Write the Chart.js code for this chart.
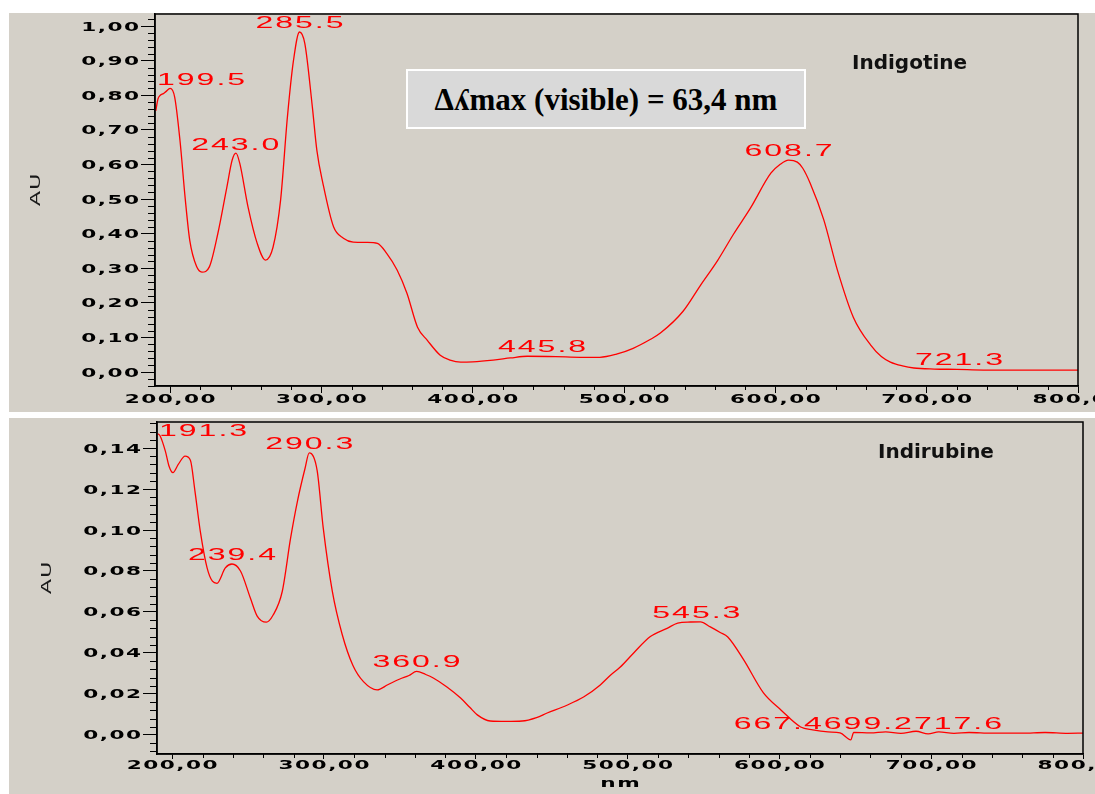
<!DOCTYPE html>
<html>
<head>
<meta charset="utf-8">
<script src="https://cdn.jsdelivr.net/npm/chart.js@4.4.0/dist/chart.umd.min.js"></script>
<style>
  html, body { margin: 0; padding: 0; background: #fff; }
  body { width: 1095px; height: 794px; position: relative; overflow: hidden; }
  .panel { position: absolute; background: #d4d0c8; }
  canvas { position: absolute; left: 0; }
  .name { position: absolute; font: bold 20px "DejaVu Sans", sans-serif; color: #111; }
  .box {
    position: absolute; left: 406px; top: 69px; width: 396px; height: 56px;
    background: #d9d9d9; border: 2px solid #fff; color: #000;
    font: bold 31px "Liberation Serif", "DejaVu Serif", serif;
    text-align: center; line-height: 58px; white-space: nowrap;
  }
</style>
</head>
<body>
<div class="panel" style="left:9px;top:13px;width:1086px;height:399px"></div>
<div class="panel" style="left:9px;top:418px;width:1086px;height:376px"></div>
<canvas id="topChart" width="1095" height="410" style="top:0"></canvas>
<canvas id="bottomChart" width="1095" height="384" style="top:410px"></canvas>
<div class="box">Δʎmax (visible) = 63,4 nm</div>
<div class="name" style="left:852px;top:50px">Indigotine</div>
<div class="name" style="left:878px;top:439px">Indirubine</div>
<script>
// Indigotine spectrum (top)
const indigoNm = [190.5,192,193.5,195.5,197,200,203,206.5,210,213,217.5,221,226,231.5,237.5,241,243.5,246,251.5,257.5,263,268,273,277.5,281.5,285.5,289,294,297,301,308,314.5,321,330,337,343,350,356.5,363.5,370,378.5,385,392,400,413.5,425,436,455,471,484,495,506,517.5,524,539,550.5,562,572.5,583.5,597,603,608.7,614.5,618,623,632,641,651.5,663,670,676,684,691.5,705,720,737.5,760,780,800];
const indigoAu = [0.755,0.79,0.80,0.805,0.81,0.82,0.795,0.67,0.50,0.38,0.305,0.289,0.305,0.40,0.535,0.613,0.633,0.604,0.477,0.373,0.324,0.361,0.497,0.737,0.90,0.983,0.95,0.766,0.64,0.545,0.42,0.387,0.376,0.375,0.372,0.344,0.295,0.228,0.13,0.092,0.049,0.035,0.029,0.03,0.035,0.041,0.046,0.045,0.043,0.043,0.052,0.069,0.095,0.113,0.176,0.251,0.324,0.40,0.474,0.575,0.60,0.613,0.607,0.59,0.546,0.44,0.295,0.159,0.078,0.045,0.029,0.018,0.012,0.009,0.008,0.006,0.006,0.006,0.006];
const indigoPeaks = [199.5, 243.0, 285.5, 445.8, 608.7, 721.3];

// Indirubine spectrum (bottom)
const indirNm = [190.5,192,195.5,198,200.5,204,208.5,212,215,218.5,223,226.5,229.5,235,239.4,245,251.5,256,262,266.5,272.5,278,282.5,287.5,290.3,295.5,299.5,305.5,312,319,326,335,342,350,356,361,367,372,381,390,396,401,409.5,420,430.5,440,447,460,471,482,488.5,495,504,515,526,533,541.5,548,554.5,561,566,576.5,589.5,601,614,622,632,640,647,649,660,670,680,690,698,705,715,725,740,760,775,790,800];
const indirAu = [0.147,0.146,0.1385,0.131,0.128,0.132,0.136,0.134,0.119,0.0995,0.0815,0.075,0.074,0.0815,0.0834,0.080,0.0668,0.058,0.055,0.0585,0.070,0.096,0.114,0.130,0.1376,0.129,0.101,0.070,0.049,0.034,0.026,0.022,0.0245,0.0273,0.029,0.031,0.0295,0.0278,0.0234,0.018,0.0135,0.0098,0.0068,0.0066,0.0068,0.0085,0.0107,0.0145,0.0185,0.0244,0.029,0.033,0.040,0.048,0.052,0.0546,0.0551,0.0552,0.0527,0.050,0.0478,0.0366,0.0205,0.0122,0.0039,0.0025,0.0015,0.001,-0.0024,0.0012,0.001,0.0015,0.0008,0.0018,0.0005,0.0015,0.0008,0.0012,0.0009,0.0009,0.0012,0.0008,0.0009];
const indirPeaks = [191.3, 239.4, 290.3, 360.9, 545.3, 667.4, 699.2, 717.6];

// axes
const xTicks = [200, 300, 400, 500, 600, 700, 800];
const indigoYTicks = [0, 0.1, 0.2, 0.3, 0.4, 0.5, 0.6, 0.7, 0.8, 0.9, 1.0];
const indirYTicks = [0, 0.02, 0.04, 0.06, 0.08, 0.10, 0.12, 0.14];

const TICK_FONT = 'bold 12px "DejaVu Sans", sans-serif';
const PEAK_FONT = '16px "Liberation Sans", Arial, sans-serif';

function auAt(nm, au, x) {
  for (let i = 1; i < nm.length; i++) {
    if (x <= nm[i]) {
      const t = (x - nm[i - 1]) / (nm[i] - nm[i - 1]);
      return au[i - 1] + t * (au[i] - au[i - 1]);
    }
  }
  return au[au.length - 1];
}

// old-style wide bitmap text: every glyph stretched sideways
function wideWidth(ctx, txt, sx, gap) {
  let w = 0;
  for (const ch of txt) w += ctx.measureText(ch).width * sx + gap;
  return w - gap;
}

function drawWide(ctx, txt, x, y, align, sx, gap) {
  const w = wideWidth(ctx, txt, sx, gap);
  if (align === 'center') x -= w / 2;
  else if (align === 'right') x -= w;
  for (const ch of txt) {
    ctx.save();
    ctx.translate(x, y);
    ctx.scale(sx, 1);
    ctx.fillText(ch, 0, 0);
    ctx.restore();
    x += ctx.measureText(ch).width * sx + gap;
  }
}

const fmt = v => v.toFixed(2).replace('.', ',');

function makeChart(id, s) {
  const extras = {
    id: 'extras',
    afterDatasetsDraw(chart) {
      const { ctx, chartArea: a, scales: { x, y } } = chart;
      ctx.save();
      ctx.font = PEAK_FONT;
      ctx.fillStyle = '#ff0000';
      ctx.textBaseline = 'alphabetic';
      ctx.textAlign = 'left';
      const boxes = s.peaks.map(p => {
        const txt = p.toFixed(1);
        const w = wideWidth(ctx, txt, 2, 2);
        const cx = x.getPixelForValue(p);
        const left = Math.max(a.left + 2, cx - w / 2);
        const base = Math.max(y.getPixelForValue(auAt(s.nm, s.au, p)) - 4, a.top + 14);
        return { txt, w, left, base };
      });
      for (let i = boxes.length - 2; i >= 0; i--) {
        const p = boxes[i], q = boxes[i + 1];
        if (p.left + p.w > q.left && Math.abs(p.base - q.base) < 14) {
          p.left = q.left - p.w - 2;
          p.base = q.base;
        }
      }
      boxes.forEach(b => drawWide(ctx, b.txt, b.left, b.base, 'left', 2, 2));
      ctx.restore();
    },
    afterDraw(chart) {
      const { ctx, chartArea: a, scales: { x, y } } = chart;
      ctx.save();
      ctx.strokeStyle = '#000';
      ctx.lineWidth = 1;
      // minor ticks
      ctx.beginPath();
      for (let v = 200; v <= 800; v += 20) {
        if (v % 100 === 0) continue;
        const px = Math.round(x.getPixelForValue(v)) + 0.5;
        ctx.moveTo(px, a.bottom);
        ctx.lineTo(px, a.bottom + 4);
      }
      const topMajor = s.yTicks[s.yTicks.length - 1] + 1e-9;
      for (let k = s.minorFrom; k <= s.minorTo; k++) {
        const v = k * s.minorStep;
        if (k % s.minorPerMajor === 0 && v >= 0 && v <= topMajor) continue;
        const py = Math.round(y.getPixelForValue(v)) + 0.5;
        ctx.moveTo(a.left - 7, py);
        ctx.lineTo(a.left, py);
      }
      ctx.stroke();
      // frame
      ctx.lineWidth = 1.5;
      ctx.strokeRect(a.left, a.top, a.right - a.left, a.bottom - a.top);

      // tick labels
      ctx.fillStyle = '#000';
      ctx.font = TICK_FONT;
      ctx.textAlign = 'left';
      ctx.textBaseline = 'alphabetic';
      x.ticks.forEach(t => {
        drawWide(ctx, fmt(t.value), x.getPixelForValue(t.value), a.bottom + s.xTickLen + 10, 'center', 1.8, 1.5);
      });
      y.ticks.forEach(t => {
        drawWide(ctx, fmt(t.value), a.left - 16, y.getPixelForValue(t.value) + 4.5, 'right', 1.8, 1.5);
      });
      if (s.xTitle) {
        drawWide(ctx, s.xTitle, (a.left + a.right) / 2, chart.height - 7, 'center', 1.8, 1.5);
      }
      // y title
      ctx.fillStyle = '#1a1a1a';
      ctx.font = '14px "DejaVu Sans", sans-serif';
      ctx.translate(s.auX, (a.top + a.bottom) / 2 - 10);
      ctx.rotate(-Math.PI / 2);
      drawWide(ctx, 'AU', 0, 5, 'center', 1.6, 1);
      ctx.restore();
    }
  };

  return new Chart(document.getElementById(id).getContext('2d'), {
    type: 'line',
    data: {
      datasets: [{
        data: s.nm.map((v, i) => ({ x: v, y: s.au[i] })),
        borderColor: '#ff0000',
        borderWidth: 1.3,
        pointRadius: 0,
        cubicInterpolationMode: 'monotone',
        fill: false
      }]
    },
    options: {
      responsive: false,
      animation: false,
      events: [],
      layout: { padding: { top: s.padTop, right: s.padRight, left: 0, bottom: 0 } },
      plugins: { legend: { display: false }, tooltip: { enabled: false } },
      scales: {
        x: {
          type: 'linear', min: 190, max: 800,
          afterBuildTicks: sc => { sc.ticks = xTicks.map(v => ({ value: v })); },
          afterFit: sc => { sc.height = s.xHeight; sc.paddingLeft = 0; sc.paddingRight = 0; },
          ticks: { display: false },
          grid: { drawOnChartArea: false, tickLength: s.xTickLen, color: '#000' },
          border: { color: '#000', width: 1.5 }
        },
        y: {
          type: 'linear', min: s.yMin, max: s.yMax,
          afterBuildTicks: sc => { sc.ticks = s.yTicks.map(v => ({ value: v })); },
          afterFit: sc => { sc.width = s.yWidth; sc.paddingTop = 0; sc.paddingBottom = 0; },
          ticks: { display: false },
          grid: { drawOnChartArea: false, tickLength: 14, color: '#000' },
          border: { color: '#000', width: 1.5 }
        }
      }
    },
    plugins: [extras]
  });
}

makeChart('topChart', {
  nm: indigoNm, au: indigoAu, peaks: indigoPeaks, yTicks: indigoYTicks,
  yMin: -0.04, yMax: 1.035, minorStep: 0.02, minorFrom: -2, minorTo: 51, minorPerMajor: 5,
  padTop: 14, padRight: 17, xHeight: 24, yWidth: 155, xTickLen: 7, auX: 35
});

makeChart('bottomChart', {
  nm: indirNm, au: indirAu, peaks: indirPeaks, yTicks: indirYTicks,
  yMin: -0.0093, yMax: 0.1527, minorStep: 0.004, minorFrom: -2, minorTo: 38, minorPerMajor: 5,
  padTop: 12, padRight: 12, xHeight: 40, yWidth: 157, xTickLen: 5, auX: 46, xTitle: 'nm'
});
</script>
</body>
</html>
